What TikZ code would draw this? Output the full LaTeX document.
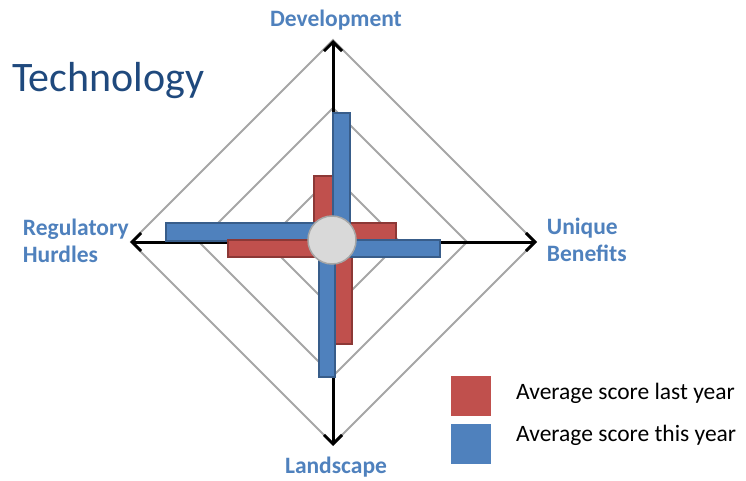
\documentclass[tikz,border=0pt]{standalone}
\usepackage{fontspec}
\setmainfont{Carlito}
\usetikzlibrary{arrows.meta}

\begin{document}
\begin{tikzpicture}
			[x=1pt,y=-1pt,line cap=round,
			%Styles
			axis/.style={line width=3pt,{Straight Barb[length=9pt,width=18pt]}-{Straight Barb[length=9pt,width=18pt]}},
			ring/.style={draw=ringgray,line width=1.8pt},
			bar last/.style={fill=lastyear,draw=lastyearedge,line width=1.5pt},
			bar this/.style={fill=thisyear,draw=thisyearedge,line width=1.5pt},
			axis label/.style={font=\fontsize{23.5}{27.7}\selectfont\bfseries,text=labelblue,inner sep=0pt,align=left},
			legend text/.style={font=\fontsize{23.5}{26}\selectfont,inner sep=0pt,anchor=base west},
			swatch/.style={minimum size=40pt,inner sep=0pt},
			hub/.style={circle,fill=hubgray,draw=ringgray,line width=1.5pt,minimum size=48pt,inner sep=0pt}
			]
			
			%Colors
			\definecolor{lastyear}{RGB}{192,80,77}
			\definecolor{lastyearedge}{RGB}{140,56,54}
			\definecolor{thisyear}{RGB}{79,129,189}
			\definecolor{thisyearedge}{RGB}{56,93,138}
			\definecolor{labelblue}{RGB}{79,129,189}
			\definecolor{titleblue}{RGB}{31,73,125}
			\definecolor{ringgray}{RGB}{166,166,166}
			\definecolor{hubgray}{RGB}{217,217,217}
			
			\useasboundingbox (0,0) rectangle (746,481);
			
			%The graphic
			\foreach \r in {67,134,202}
				\draw[ring] (333,242) ++(0,-\r) -- ++(\r,\r) -- ++(-\r,\r) -- ++(-\r,-\r) -- cycle;
			
			\coordinate (top) at (333,40);
			\coordinate (bottom) at (333,446);
			\coordinate (left) at (130,242);
			\coordinate (right) at (537,242);
			
			\draw[axis] (left) -- (right);
			\draw[axis] (bottom) -- (top);
			
			%last year
			\draw[bar last] (314,176) rectangle (333,241);
			\draw[bar last] (333,223) rectangle (396,241);
			\draw[bar last] (334,241) rectangle (352,344);
			%this year
			\draw[bar this] (333,113) rectangle (350,241);
			\draw[bar this] (333,240) rectangle (440,257);
			\draw[bar this] (319,241) rectangle (335,377);
			\draw[bar this] (166,223) rectangle (333,241);
			\draw[bar last] (228,240) rectangle (333,257);
			
			\node[hub] (hub) at (332,240) {};
			
			\node[axis label,anchor=base] (development) at (336,26.7) {Development};
			\node[axis label,anchor=base] (landscape) at (336,473.3) {Landscape};
			\node[axis label,anchor=base west] (regulatory) at (22.7,262.7) {Regulatory\\Hurdles};
			\node[axis label,anchor=base west] (unique) at (546.7,261.7) {Unique\\Benefits};
			
			\node[font=\fontsize{42}{50}\selectfont,text=titleblue,anchor=base west,inner sep=0pt] (title) at (12,91.7) {Technology};
			
			\node[swatch,fill=lastyear] (key last) at (471,396) {};
			\node[swatch,fill=thisyear] (key this) at (471,444) {};
			\node[legend text] (text last) at (516,399) {Average score last year};
			\node[legend text] (text this) at (516,441.7) {Average score this year};
		\end{tikzpicture}
\end{document}
